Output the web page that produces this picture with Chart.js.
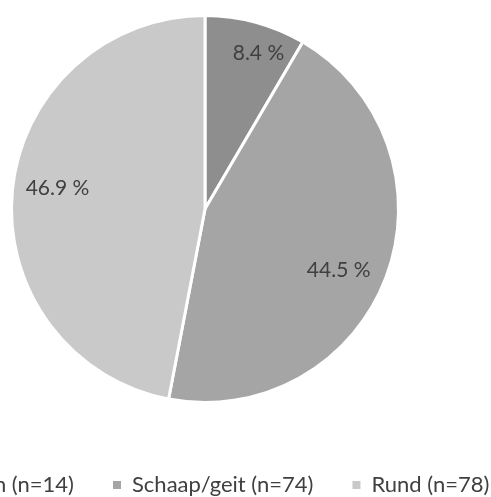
<!DOCTYPE html>
<html>
<head>
<meta charset="utf-8">
<script src="https://cdn.jsdelivr.net/npm/chart.js@4/dist/chart.umd.min.js"></script>
<style>
  html, body { margin: 0; padding: 0; background: #fff; overflow: hidden; width: 491px; height: 497px; }
  #wrap { position: absolute; left: -145px; top: 0; width: 700px; height: 506px; }
</style>
</head>
<body>
<div id="wrap"><canvas id="c"></canvas></div>
<script>
// ---- data ----
const categories = ['Varken (n=14)', 'Schaap/geit (n=74)', 'Rund (n=78)'];
const counts = [14, 74, 78];
const percentLabels = ['8.4 %', '44.5 %', '46.9 %'];

// ---- style ----
const sliceColors = ['#8e8e8e', '#a5a5a5', '#c9c9c9'];
const FONT = 'Lato, "Open Sans", sans-serif';
// label placement: radial fraction and angular nudge (degrees) per slice
const labelPlace = [{f: 0.85, da: 3.8}, {f: 0.76, da: 4}, {f: 0.77, da: 2.7}];

const labelPlugin = {
  id: 'sliceLabels',
  afterDatasetsDraw(chart) {
    const ctx = chart.ctx;
    const meta = chart.getDatasetMeta(0);
    ctx.save();
    ctx.font = '21px ' + FONT;
    ctx.fillStyle = '#404040';
    ctx.textAlign = 'center';
    ctx.textBaseline = 'middle';
    meta.data.forEach((arc, i) => {
      const p = arc.getProps(['x', 'y', 'startAngle', 'endAngle', 'outerRadius'], true);
      const a = (p.startAngle + p.endAngle) / 2 + labelPlace[i].da * Math.PI / 180;
      const r = p.outerRadius * labelPlace[i].f;
      ctx.fillText(percentLabels[i], p.x + Math.cos(a) * r, p.y + Math.sin(a) * r);
    });
    ctx.restore();
  }
};

new Chart(document.getElementById('c'), {
  type: 'pie',
  data: {
    labels: categories,
    datasets: [{
      data: counts,
      backgroundColor: sliceColors,
      borderColor: '#ffffff',
      borderWidth: 3
    }]
  },
  options: {
    responsive: true,
    maintainAspectRatio: false,
    animation: false,
    layout: { padding: { top: 14, bottom: 0 } },
    plugins: {
      tooltip: { enabled: false },
      legend: {
        position: 'bottom',
        title: { display: true, text: ' ', font: { size: 10 }, padding: { top: 19, bottom: 0 } },
        labels: {
          font: { size: 22, family: FONT },
          color: '#404040',
          boxWidth: 8,
          boxHeight: 8,
          padding: 39,
          generateLabels(chart) {
            const items = Chart.overrides.pie.plugins.legend.labels.generateLabels(chart);
            items.forEach(it => { it.lineWidth = 0; it.strokeStyle = it.fillStyle; });
            return items;
          }
        }
      }
    }
  },
  plugins: [labelPlugin]
});
</script>
</body>
</html>
